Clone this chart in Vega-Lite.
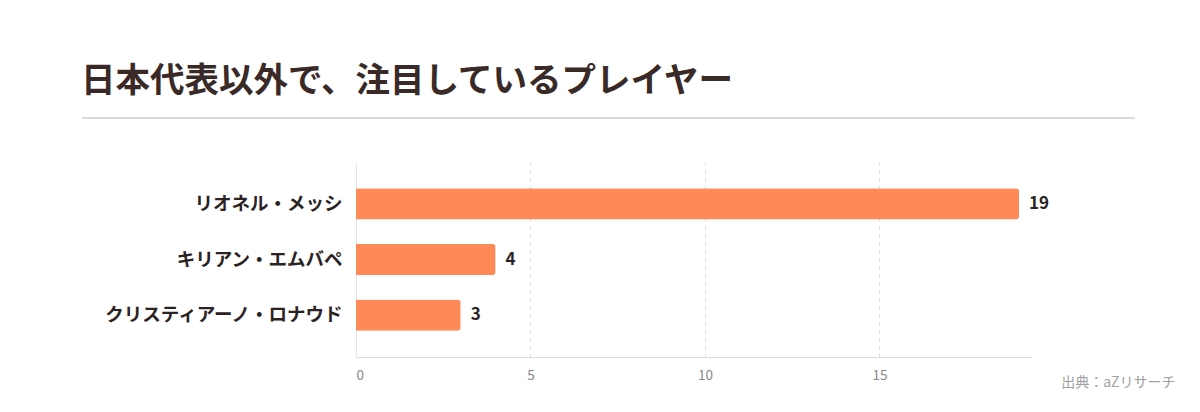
{
  "$schema": "https://vega.github.io/schema/vega-lite/v6.json",
  "width": 676,
  "height": 195,
  "autosize": {"type": "none"},
  "padding": {"left": 356, "top": 162, "right": 168, "bottom": 55},
  "background": "white",
  "config": {"view": {"stroke": null}, "font": "Noto Sans CJK JP"},
  "title": {
    "text": "日本代表以外で、注目しているプレイヤー",
    "anchor": "start",
    "frame": "group",
    "dx": -275,
    "offset": 18,
    "fontSize": 34.5,
    "fontWeight": "bold",
    "color": "#3a2a27",
    "font": "Noto Sans CJK JP"
  },
  "data": {
    "values": [
      {"player": "リオネル・メッシ", "value": 19},
      {"player": "キリアン・エムバペ", "value": 4},
      {"player": "クリスティアーノ・ロナウド", "value": 3}
    ]
  },
  "layer": [
    {
      "mark": {"type": "rule", "color": "#dedada", "strokeWidth": 1.5},
      "encoding": {"x": {"value": -274}, "x2": {"value": 779}, "y": {"value": -44}}
    },
    {
      "mark": {"type": "bar", "color": "#FF8A57", "cornerRadiusEnd": 3},
      "encoding": {
        "y": {
          "field": "player",
          "type": "nominal",
          "sort": null,
          "scale": {"paddingInner": 0.44, "paddingOuter": 0.47},
          "axis": {
            "title": null,
            "ticks": false,
            "domain": true,
            "domainColor": "#e8e6e6",
            "labelPadding": 14,
            "labelFontSize": 18.5,
            "labelFontWeight": "bold",
            "labelColor": "#2b2323",
            "labelFont": "Noto Sans CJK JP",
            "labelLimit": 400
          }
        },
        "x": {
          "field": "value",
          "type": "quantitative",
          "scale": {"domain": [0, 19.37], "nice": false},
          "axis": {
            "values": [0, 5, 10, 15],
            "grid": true,
            "gridDash": [4, 4],
            "gridColor": "#dddddd",
            "domainColor": "#dddddd",
            "ticks": false,
            "labelColor": "#888888",
            "labelFontSize": 13.5,
            "labelPadding": 11,
            "labelFont": "Noto Sans CJK JP",
            "title": "出典：aZリサーチ",
            "titleX": 819,
            "titleY": 29,
            "titleAlign": "right",
            "titleAnchor": null,
            "titleBaseline": "alphabetic",
            "titleFontSize": 14,
            "titleFontWeight": "normal",
            "titleColor": "#a0a0a0",
            "titleFont": "Noto Sans CJK JP"
          }
        }
      }
    },
    {
      "mark": {"type": "text", "align": "left", "dx": 10, "fontSize": 17, "fontWeight": "bold", "color": "#2b2323", "font": "Noto Sans CJK JP"},
      "encoding": {
        "y": {"field": "player", "type": "nominal", "sort": null},
        "x": {"field": "value", "type": "quantitative"},
        "text": {"field": "value", "type": "quantitative"}
      }
    }
  ]
}
